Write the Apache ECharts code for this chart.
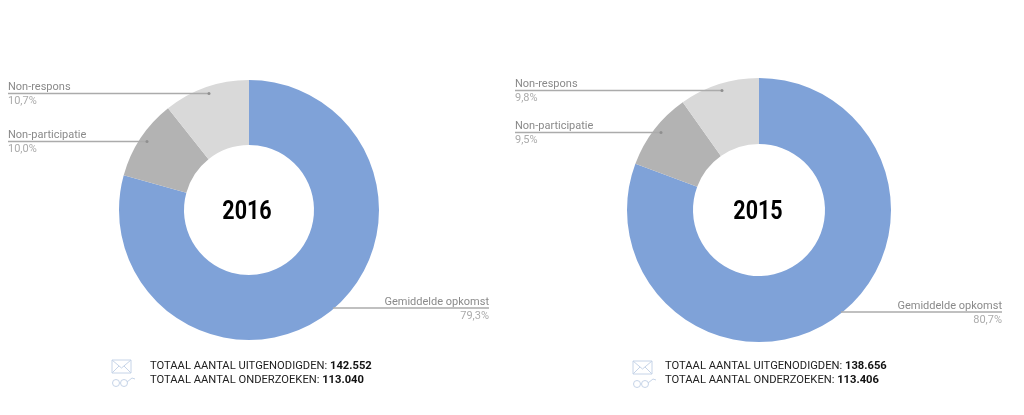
<!DOCTYPE html>
<html>
<head>
<meta charset="utf-8">
<style>
  html, body { margin: 0; padding: 0; background: #fff; }
  #chart { width: 1024px; height: 415px; }
</style>
<script src="https://cdn.jsdelivr.net/npm/echarts@6/dist/echarts.min.js"></script>
</head>
<body>
<div id="chart"></div>
<script>
  var categories = ['Gemiddelde opkomst', 'Non-participatie', 'Non-respons'];
  var values2016 = [79.3, 10.0, 10.7];
  var values2015 = [80.7, 9.5, 9.8];
  var years = ['2016', '2015'];
  var invited = ['142.552', '138.656'];
  var examined = ['113.040', '113.406'];
  var colors = ['#7fa2d8', '#b3b3b3', '#d9d9d9'];

  // leader lines per year, same order as categories: x of the text side, x of the pie side, y
  var leaders = [
    [[489, 333, 308], [8, 147, 141.5], [8, 209, 93.5]],
    [[1002, 841, 312], [515, 661, 132.5], [515, 722, 90.5]]
  ];

  var chart = echarts.init(document.getElementById('chart'));

  function pieSeries(values, center, outer, inner) {
    return {
      type: 'pie',
      center: center,
      radius: [inner, outer],
      startAngle: 90,
      clockwise: true,
      silent: true,
      animation: false,
      data: categories.map(function (name, i) {
        return { name: name, value: values[i], itemStyle: { color: colors[i] } };
      }),
      label: {
        show: true,
        position: 'outside',
        overflow: 'none',
        formatter: function (p) {
          return '{n|' + p.name + '}\n{v|' + p.value.toFixed(1).replace('.', ',') + '%}';
        },
        rich: {
          n: { fontFamily: 'Roboto', fontSize: 11, color: '#8a8a8a', lineHeight: 14 },
          v: { fontFamily: 'Roboto', fontSize: 11, color: '#ababab', lineHeight: 14 }
        }
      },
      labelLine: { show: false },
      labelLayout: function (p) {
        var l = leaders[p.seriesIndex][p.dataIndex];
        return {
          x: l[0],
          y: l[2] + 1,
          verticalAlign: 'middle',
          align: l[0] > l[1] ? 'right' : 'left'
        };
      }
    };
  }

  function icons(x, y) {
    // envelope and glasses next to the totals
    var stroke = { stroke: '#c6d4e8', fill: null, lineWidth: 1 };
    return [
      { type: 'rect', shape: { x: x, y: y, width: 19, height: 13 }, style: stroke },
      { type: 'polyline', shape: { points: [[x, y], [x + 9.5, y + 8], [x + 19, y]] }, style: stroke },
      { type: 'polyline', shape: { points: [[x, y + 13], [x + 7, y + 6]] }, style: stroke },
      { type: 'polyline', shape: { points: [[x + 19, y + 13], [x + 12, y + 6]] }, style: stroke },
      { type: 'circle', shape: { cx: x + 4, cy: y + 23, r: 3.5 }, style: stroke },
      { type: 'circle', shape: { cx: x + 12, cy: y + 23, r: 3.5 }, style: stroke },
      { type: 'polyline', shape: { points: [[x + 15, y + 22], [x + 20, y + 18], [x + 23, y + 19]] }, style: stroke }
    ];
  }

  function totals(i, x, y1, y2) {
    function line(text, num, y) {
      return {
        type: 'text', x: x, y: y,
        style: {
          text: '{a|' + text + ': }{b|' + num + '}',
          verticalAlign: 'middle',
          rich: {
            a: { fontFamily: 'Roboto', fontSize: 11.2, fill: '#222' },
            b: { fontFamily: 'Roboto', fontSize: 11.2, fontWeight: 'bold', fill: '#111' }
          }
        }
      };
    }
    return [line('TOTAAL AANTAL UITGENODIGDEN', invited[i], y1), line('TOTAAL AANTAL ONDERZOEKEN', examined[i], y2)];
  }

  function centerText(i, x, y) {
    return {
      type: 'text', x: x, y: y, scaleX: 0.86,
      style: {
        text: years[i], align: 'center', verticalAlign: 'middle',
        fontFamily: 'Roboto', fontWeight: 'bold', fontSize: 25, fill: '#000'
      }
    };
  }

  function leaderMarks() {
    var out = [];
    leaders.forEach(function (row) {
      row.forEach(function (l, i) {
        out.push({
          type: 'line', z: 20,
          shape: { x1: l[0], y1: l[2], x2: l[1], y2: l[2] },
          style: { stroke: '#ababab', lineWidth: 1.5 }
        });
        // the line of the big blue slice has no visible dot
        if (i > 0) {
          out.push({ type: 'circle', z: 21, shape: { cx: l[1], cy: l[2], r: 1.5 }, style: { fill: '#8f8f8f' } });
        }
      });
    });
    return out;
  }

  chart.setOption({
    backgroundColor: '#fff',
    animation: false,
    series: [
      pieSeries(values2016, [249, 210], 130, 65),
      pieSeries(values2015, [759, 210], 132, 66)
    ],
    graphic: [].concat(
      centerText(0, 247, 213),
      centerText(1, 758, 213),
      leaderMarks(),
      icons(112, 360),
      icons(633, 361),
      totals(0, 150, 366, 380),
      totals(1, 665, 366, 380)
    )
  });
</script>
</body>
</html>
